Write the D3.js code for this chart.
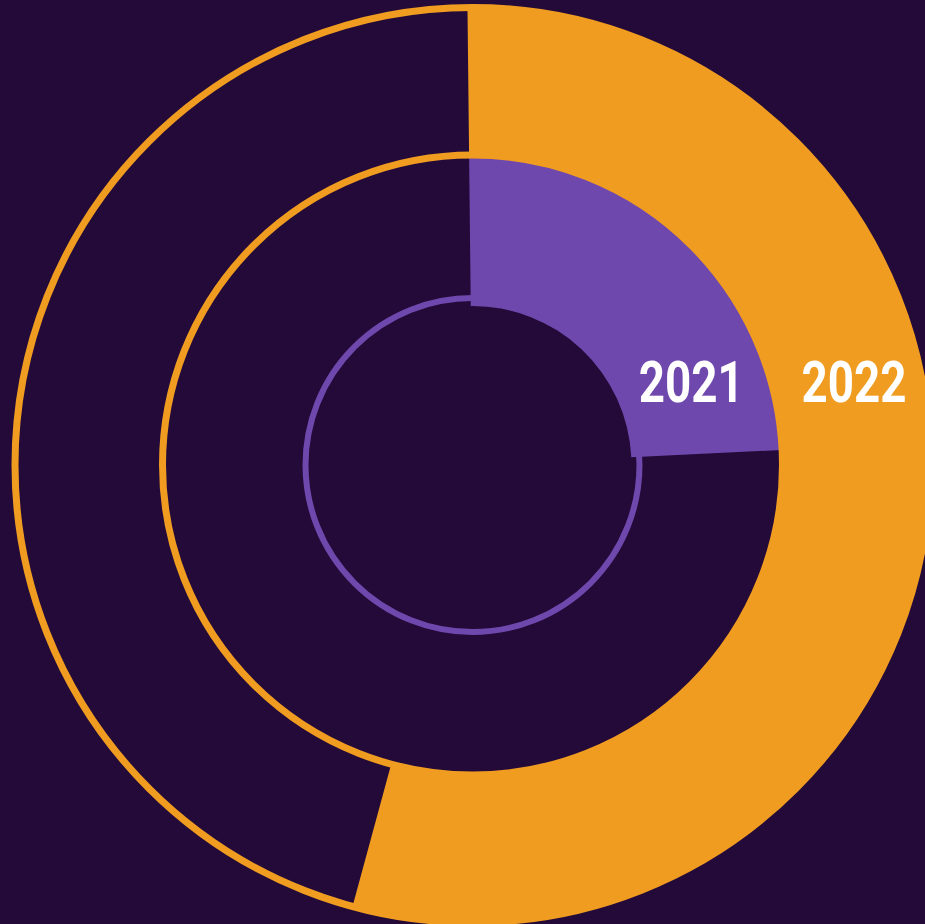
<!DOCTYPE html>
<html>
<head>
<meta charset="utf-8">
<script src="https://cdn.jsdelivr.net/npm/d3@7"></script>
<style>
  html, body { margin: 0; padding: 0; background: #230a38; overflow: hidden; }
  svg { display: block; }
</style>
</head>
<body>
<script>
// Share of the year completed (percent), one ring per year
const years = ["2021", "2022"];
const shares = [24.4, 54.4];
const ringColors = ["#6f48ad", "#ef9c21"];

const width = 925, height = 924;
const cx = 472.5, cy = 465;
const bg = "#230a38";

const svg = d3.select("body").append("svg")
  .attr("width", width).attr("height", height)
  .style("background", bg);

const g = svg.append("g").attr("transform", `translate(${cx},${cy})`);

// Angular scale: percent -> radians, starting just left of 12 o'clock
const start = -0.011;
const angle = d3.scaleLinear().domain([0, 100]).range([start, start + 2 * Math.PI]);

// Radial bands, one per year, inner year closest to the centre
const radius = d3.scaleBand().domain(years).range([159, 460]).padding(0);

const arc = d3.arc()
  .innerRadius(d => radius(d.year))
  .outerRadius(d => radius(d.year) + radius.bandwidth())
  .startAngle(angle(0))
  .endAngle(d => angle(d.value));

const rows = years.map((y, i) => ({ year: y, value: shares[i], color: ringColors[i] }));

g.selectAll("path.bar")
  .data(rows)
  .join("path")
  .attr("class", "bar")
  .attr("d", arc)
  .attr("fill", d => d.color);

// Track outlines: inner edge of each band plus the outer rim
const tracks = [
  { r: radius("2021") + 8, color: ringColors[0], w: 6 },
  { r: radius("2022") + 0.5, color: ringColors[1], w: 7 },
  { r: radius("2022") + radius.bandwidth() - 2.5, color: ringColors[1], w: 7 }
];

g.selectAll("circle.track")
  .data(tracks)
  .join("circle")
  .attr("class", "track")
  .attr("r", d => d.r)
  .attr("fill", "none")
  .attr("stroke", d => d.color)
  .attr("stroke-width", d => d.w);

// Year labels sit on a common line, centred within their band
const labelDy = -84;
g.selectAll("text.year")
  .data(rows)
  .join("text")
  .attr("class", "year")
  .attr("x", d => {
    const r = radius(d.year) + radius.bandwidth() / 2 + (d.year === "2022" ? 6 : 0);
    return Math.sqrt(r * r - labelDy * labelDy);
  })
  .attr("y", labelDy + 21)
  .attr("text-anchor", "middle")
  .attr("font-family", "'Liberation Sans Narrow', 'Roboto', 'DejaVu Sans Condensed', sans-serif")
  .attr("font-weight", "bold")
  .attr("font-size", 57)
  .attr("textLength", 105)
  .attr("lengthAdjust", "spacingAndGlyphs")
  .attr("fill", "#ffffff")
  .text(d => d.year);
</script>
</body>
</html>
